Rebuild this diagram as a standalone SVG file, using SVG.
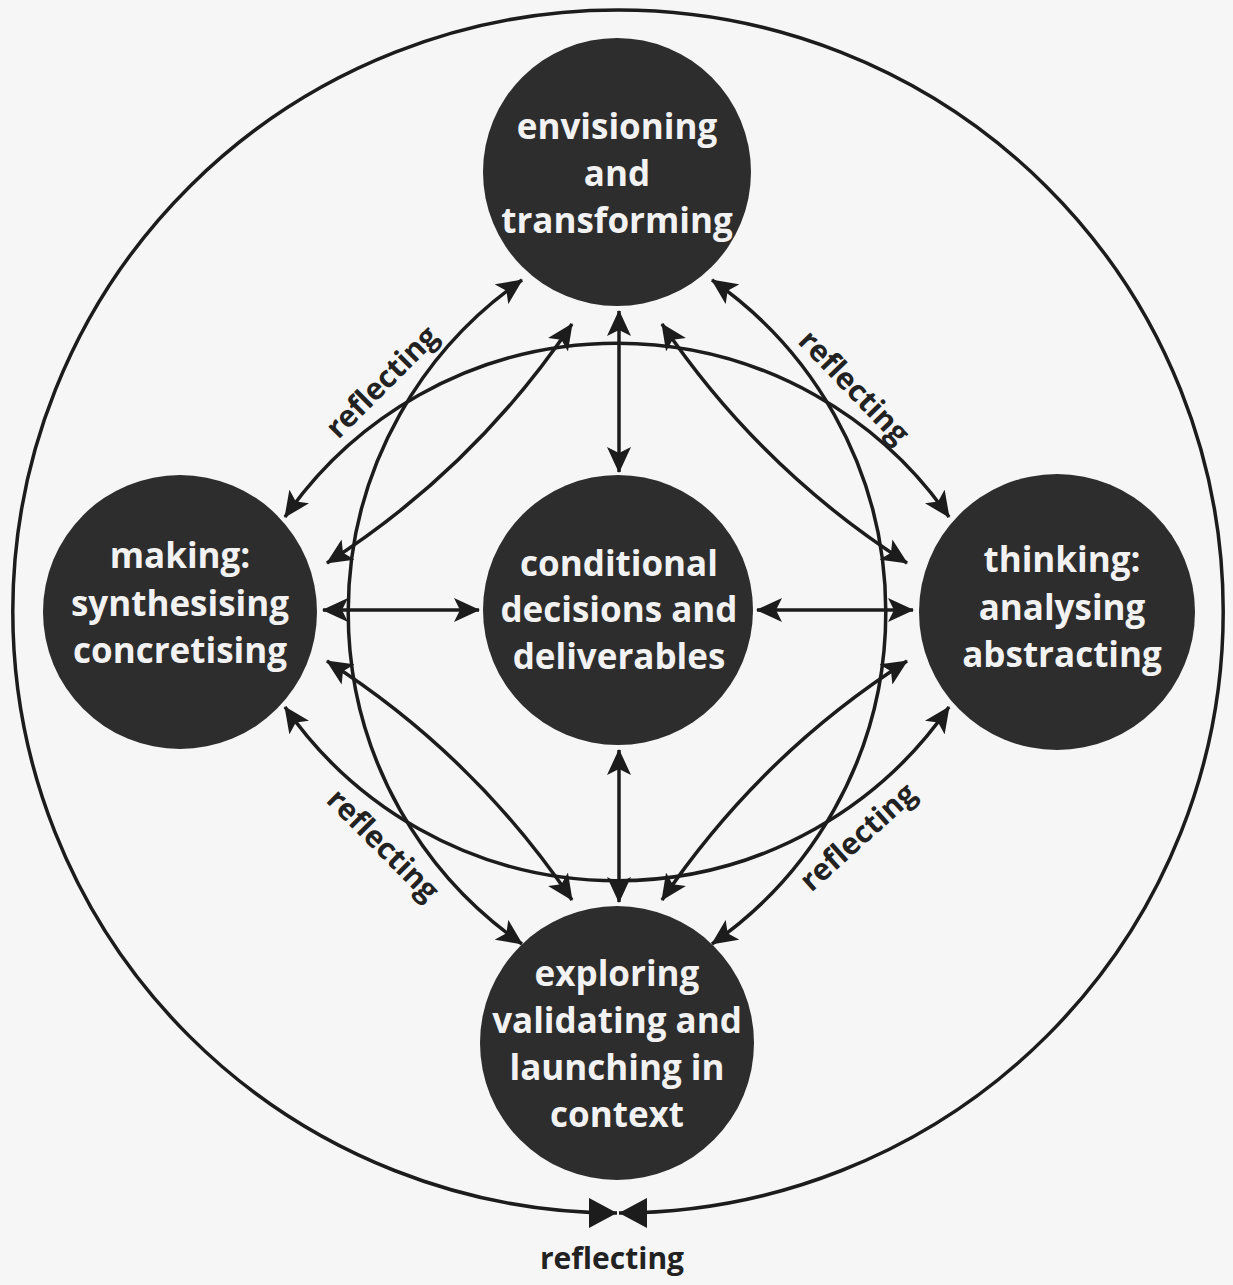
<svg xmlns="http://www.w3.org/2000/svg" width="1233" height="1285" viewBox="0 0 1233 1285">
<style>
.node{fill:#2d2d2d;}
.nt{font-family:"Open Sans","Noto Sans",sans-serif;font-weight:700;font-size:35px;fill:#f2f2f2;text-anchor:middle;}
.lbl{font-family:"Open Sans","Noto Sans",sans-serif;font-weight:700;font-size:30px;fill:#222;text-anchor:middle;dominant-baseline:central;}
.ln{fill:none;stroke:#1c1c1c;stroke-width:3.5;}
.arr{marker-start:url(#ah);marker-end:url(#ah);}
</style>
<defs>
<marker id="ah" viewBox="0 0 26 24" refX="25" refY="12" markerWidth="26" markerHeight="24" markerUnits="userSpaceOnUse" orient="auto-start-reverse"><path d="M0,0 L26,12 L0,24 L6,12 z" fill="#1c1c1c"/></marker>
<marker id="ahb" viewBox="0 0 28 30" refX="28" refY="15" markerWidth="28" markerHeight="30" markerUnits="userSpaceOnUse" orient="auto"><path d="M0,0 L28,15 L0,30 z" fill="#1c1c1c"/></marker>
</defs>
<rect x="0" y="0" width="1233" height="1285" fill="#f6f6f6"/>
<g id="connectors">
<path class="ln" d="M618,10 A605,601.5 0 0 0 617,1213" marker-end="url(#ahb)"/>
<path class="ln" d="M618,10 A605,601.5 0 0 1 619,1213" marker-end="url(#ahb)"/>
<path class="ln arr" d="M522,280 A404,404 0 0 0 522,944"/>
<path class="ln arr" d="M712,280 A404,404 0 0 1 712,944"/>
<path class="ln arr" d="M285,517 A404,404 0 0 1 949,517"/>
<path class="ln arr" d="M285,707 A404,404 0 0 0 949,707"/>
<path class="ln arr" d="M572,324 Q474,469 327,563"/>
<path class="ln arr" d="M662,324 Q760,469 907,563"/>
<path class="ln arr" d="M327,661 Q474,755 572,900"/>
<path class="ln arr" d="M907,661 Q760,755 662,900"/>
<path class="ln arr" d="M619,311 L619,472"/>
<path class="ln arr" d="M619,750 L619,902"/>
<path class="ln arr" d="M323,610 L479,610"/>
<path class="ln arr" d="M757,610 L913,610"/>
</g>
<g id="labels">
<text class="lbl" transform="translate(381,381) rotate(-45)">reflecting</text>
<text class="lbl" transform="translate(855,386) rotate(46)">reflecting</text>
<text class="lbl" transform="translate(384,844) rotate(45)">reflecting</text>
<text class="lbl" transform="translate(857,836) rotate(-42)">reflecting</text>
<text class="lbl" transform="translate(612,1257)">reflecting</text>
</g>
<g id="node-envisioning">
<circle class="node" cx="617" cy="172" r="134"/>
<text class="nt" x="617" y="139">envisioning</text>
<text class="nt" x="617" y="186">and</text>
<text class="nt" x="617" y="233">transforming</text>
</g>
<g id="node-making">
<circle class="node" cx="180" cy="612" r="137"/>
<text class="nt" x="180" y="568">making:</text>
<text class="nt" x="180" y="616">synthesising</text>
<text class="nt" x="180" y="663">concretising</text>
</g>
<g id="node-conditional">
<circle class="node" cx="618" cy="610" r="135"/>
<text class="nt" x="619" y="576">conditional</text>
<text class="nt" x="619" y="622">decisions and</text>
<text class="nt" x="619" y="669">deliverables</text>
</g>
<g id="node-thinking">
<circle class="node" cx="1057" cy="612" r="138"/>
<text class="nt" x="1062" y="572">thinking:</text>
<text class="nt" x="1062" y="620">analysing</text>
<text class="nt" x="1062" y="667">abstracting</text>
</g>
<g id="node-exploring">
<circle class="node" cx="617" cy="1043" r="137"/>
<text class="nt" x="617" y="986">exploring</text>
<text class="nt" x="617" y="1033">validating and</text>
<text class="nt" x="617" y="1080">launching in</text>
<text class="nt" x="617" y="1127">context</text>
</g>
</svg>
